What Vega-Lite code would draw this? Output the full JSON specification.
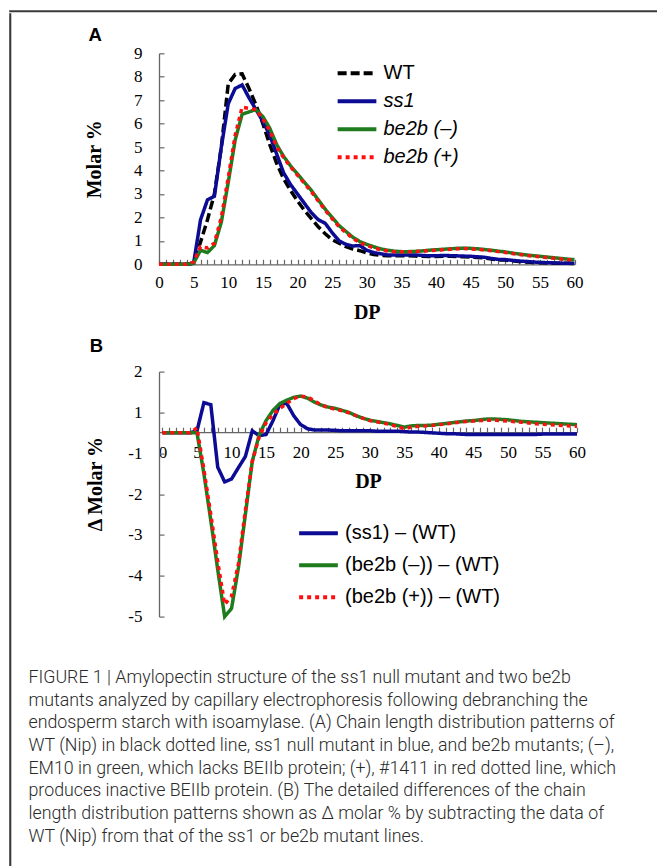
{
  "$schema": "https://vega.github.io/schema/vega-lite/v6.json",
  "padding": {"left": 8, "top": 9, "right": 0, "bottom": 0},
  "background": "white",
  "datasets": {
    "A": [
      {"dp":0,"WT":0,"ss1":0,"m":0,"p":0},{"dp":1,"WT":0,"ss1":0,"m":0,"p":0},{"dp":2,"WT":0,"ss1":0,"m":0,"p":0},{"dp":3,"WT":0,"ss1":0,"m":0,"p":0},{"dp":4,"WT":0,"ss1":0,"m":0,"p":0},
      {"dp":5,"WT":0.05,"ss1":0.05,"m":0.05,"p":0.1},{"dp":6,"WT":0.95,"ss1":1.9,"m":0.6,"p":0.75},{"dp":7,"WT":1.9,"ss1":2.75,"m":0.5,"p":0.7},{"dp":8,"WT":3.0,"ss1":2.9,"m":0.8,"p":0.9},{"dp":9,"WT":5.0,"ss1":5.0,"m":1.8,"p":2.0},
      {"dp":10,"WT":7.7,"ss1":6.85,"m":3.5,"p":3.7},{"dp":11,"WT":8.1,"ss1":7.5,"m":5.3,"p":5.5},{"dp":12,"WT":8.12,"ss1":7.65,"m":6.4,"p":6.7},{"dp":13,"WT":7.5,"ss1":7.1,"m":6.5,"p":6.65},{"dp":14,"WT":6.8,"ss1":6.6,"m":6.6,"p":6.6},
      {"dp":15,"WT":6.0,"ss1":6.1,"m":6.3,"p":6.2},{"dp":16,"WT":5.1,"ss1":5.5,"m":5.8,"p":5.7},{"dp":17,"WT":4.3,"ss1":4.7,"m":5.1,"p":5.0},{"dp":18,"WT":3.65,"ss1":3.9,"m":4.6,"p":4.55},{"dp":19,"WT":3.15,"ss1":3.4,"m":4.2,"p":4.15},
      {"dp":20,"WT":2.7,"ss1":3.0,"m":3.85,"p":3.8},{"dp":21,"WT":2.3,"ss1":2.6,"m":3.5,"p":3.45},{"dp":22,"WT":1.95,"ss1":2.2,"m":3.15,"p":3.1},{"dp":23,"WT":1.6,"ss1":1.9,"m":2.75,"p":2.7},{"dp":24,"WT":1.3,"ss1":1.75,"m":2.35,"p":2.3},
      {"dp":25,"WT":1.05,"ss1":1.35,"m":2.0,"p":1.95},{"dp":26,"WT":0.9,"ss1":1.0,"m":1.65,"p":1.6},{"dp":27,"WT":0.75,"ss1":0.85,"m":1.4,"p":1.35},{"dp":28,"WT":0.65,"ss1":0.78,"m":1.15,"p":1.1},{"dp":29,"WT":0.58,"ss1":0.8,"m":0.97,"p":0.93},
      {"dp":30,"WT":0.48,"ss1":0.6,"m":0.85,"p":0.8},{"dp":31,"WT":0.42,"ss1":0.5,"m":0.75,"p":0.7},{"dp":32,"WT":0.38,"ss1":0.45,"m":0.66,"p":0.62},{"dp":33,"WT":0.37,"ss1":0.4,"m":0.6,"p":0.57},{"dp":34,"WT":0.37,"ss1":0.4,"m":0.56,"p":0.54},
      {"dp":35,"WT":0.36,"ss1":0.4,"m":0.54,"p":0.53},{"dp":36,"WT":0.36,"ss1":0.4,"m":0.54,"p":0.53},{"dp":37,"WT":0.35,"ss1":0.4,"m":0.55,"p":0.54},{"dp":38,"WT":0.34,"ss1":0.38,"m":0.57,"p":0.56},{"dp":39,"WT":0.33,"ss1":0.36,"m":0.6,"p":0.58},
      {"dp":40,"WT":0.33,"ss1":0.36,"m":0.62,"p":0.6},{"dp":41,"WT":0.34,"ss1":0.38,"m":0.64,"p":0.62},{"dp":42,"WT":0.34,"ss1":0.37,"m":0.66,"p":0.64},{"dp":43,"WT":0.33,"ss1":0.36,"m":0.68,"p":0.66},{"dp":44,"WT":0.32,"ss1":0.35,"m":0.69,"p":0.67},
      {"dp":45,"WT":0.31,"ss1":0.34,"m":0.68,"p":0.66},{"dp":46,"WT":0.29,"ss1":0.32,"m":0.66,"p":0.64},{"dp":47,"WT":0.27,"ss1":0.3,"m":0.63,"p":0.61},{"dp":48,"WT":0.23,"ss1":0.25,"m":0.6,"p":0.58},{"dp":49,"WT":0.19,"ss1":0.21,"m":0.56,"p":0.54},
      {"dp":50,"WT":0.18,"ss1":0.2,"m":0.53,"p":0.5},{"dp":51,"WT":0.15,"ss1":0.17,"m":0.48,"p":0.46},{"dp":52,"WT":0.12,"ss1":0.14,"m":0.44,"p":0.42},{"dp":53,"WT":0.1,"ss1":0.12,"m":0.4,"p":0.38},{"dp":54,"WT":0.08,"ss1":0.1,"m":0.37,"p":0.35},
      {"dp":55,"WT":0.07,"ss1":0.08,"m":0.34,"p":0.32},{"dp":56,"WT":0.06,"ss1":0.07,"m":0.31,"p":0.29},{"dp":57,"WT":0.05,"ss1":0.06,"m":0.28,"p":0.26},{"dp":58,"WT":0.04,"ss1":0.05,"m":0.25,"p":0.23},{"dp":59,"WT":0.04,"ss1":0.05,"m":0.22,"p":0.2},
      {"dp":60,"WT":0.03,"ss1":0.04,"m":0.2,"p":0.18}
    ],
    "B": [
      {"dp":0,"s":0,"m":0,"p":0},{"dp":1,"s":0,"m":0,"p":0},{"dp":2,"s":0,"m":0,"p":0},{"dp":3,"s":0,"m":0,"p":0},{"dp":4,"s":0,"m":0,"p":0},
      {"dp":5,"s":0.05,"m":0,"p":0.12},{"dp":6,"s":0.74,"m":-1.0,"p":-0.9},{"dp":7,"s":0.69,"m":-2.15,"p":-2.0},{"dp":8,"s":-0.84,"m":-3.35,"p":-3.15},{"dp":9,"s":-1.2,"m":-4.5,"p":-4.2},
      {"dp":10,"s":-1.13,"m":-4.3,"p":-4.0},{"dp":11,"s":-0.85,"m":-3.3,"p":-3.2},{"dp":12,"s":-0.58,"m":-2.0,"p":-1.9},{"dp":13,"s":0.05,"m":-0.7,"p":-0.7},{"dp":14,"s":-0.07,"m":-0.05,"p":-0.1},
      {"dp":15,"s":-0.04,"m":0.3,"p":0.25},{"dp":16,"s":0.3,"m":0.55,"p":0.45},{"dp":17,"s":0.7,"m":0.72,"p":0.6},{"dp":18,"s":0.72,"m":0.8,"p":0.72},{"dp":19,"s":0.42,"m":0.87,"p":0.84},
      {"dp":20,"s":0.2,"m":0.9,"p":0.9},{"dp":21,"s":0.1,"m":0.85,"p":0.88},{"dp":22,"s":0.07,"m":0.75,"p":0.78},{"dp":23,"s":0.07,"m":0.68,"p":0.68},{"dp":24,"s":0.07,"m":0.63,"p":0.62},
      {"dp":25,"s":0.06,"m":0.6,"p":0.58},{"dp":26,"s":0.05,"m":0.55,"p":0.54},{"dp":27,"s":0.05,"m":0.5,"p":0.49},{"dp":28,"s":0.05,"m":0.42,"p":0.42},{"dp":29,"s":0.05,"m":0.36,"p":0.36},
      {"dp":30,"s":0.05,"m":0.31,"p":0.3},{"dp":31,"s":0.04,"m":0.28,"p":0.27},{"dp":32,"s":0.04,"m":0.25,"p":0.24},{"dp":33,"s":0.04,"m":0.22,"p":0.2},{"dp":34,"s":0.04,"m":0.18,"p":0.15},
      {"dp":35,"s":0.03,"m":0.14,"p":0.1},{"dp":36,"s":0.02,"m":0.17,"p":0.14},{"dp":37,"s":0.02,"m":0.18,"p":0.16},{"dp":38,"s":0.01,"m":0.18,"p":0.17},{"dp":39,"s":0.0,"m":0.19,"p":0.18},
      {"dp":40,"s":-0.01,"m":0.21,"p":0.2},{"dp":41,"s":-0.02,"m":0.23,"p":0.22},{"dp":42,"s":-0.02,"m":0.25,"p":0.24},{"dp":43,"s":-0.03,"m":0.27,"p":0.26},{"dp":44,"s":-0.04,"m":0.29,"p":0.28},
      {"dp":45,"s":-0.04,"m":0.3,"p":0.29},{"dp":46,"s":-0.04,"m":0.32,"p":0.3},{"dp":47,"s":-0.04,"m":0.34,"p":0.31},{"dp":48,"s":-0.04,"m":0.34,"p":0.31},{"dp":49,"s":-0.04,"m":0.33,"p":0.3},
      {"dp":50,"s":-0.04,"m":0.32,"p":0.29},{"dp":51,"s":-0.04,"m":0.3,"p":0.27},{"dp":52,"s":-0.04,"m":0.28,"p":0.26},{"dp":53,"s":-0.04,"m":0.27,"p":0.24},{"dp":54,"s":-0.04,"m":0.26,"p":0.22},
      {"dp":55,"s":-0.03,"m":0.25,"p":0.21},{"dp":56,"s":-0.03,"m":0.24,"p":0.2},{"dp":57,"s":-0.03,"m":0.23,"p":0.19},{"dp":58,"s":-0.03,"m":0.22,"p":0.18},{"dp":59,"s":-0.03,"m":0.21,"p":0.17},
      {"dp":60,"s":-0.03,"m":0.2,"p":0.16}
    ]
  },
  "config": {
    "view": {"stroke": null},
    "axis": {
      "grid": false,
      "labelFont": "Liberation Serif", "labelFontSize": 17, "labelColor": "#000",
      "titleFont": "Liberation Serif", "titleFontSize": 20, "titleFontWeight": "bold", "titleColor": "#000",
      "domainColor": "#666", "tickColor": "#666", "domainWidth": 1.3, "tickWidth": 1.2,
      "tickSize": -5, "labelOverlap": false, "labelFlush": false
    },
    "legend": {
      "labelFont": "Liberation Sans", "labelFontSize": 20, "labelColor": "#000", "labelLimit": 400,
      "symbolType": "stroke", "symbolSize": 1500, "symbolStrokeWidth": 4,
      "labelOffset": 5, "padding": 0, "title": null, "rowPadding": 0
    },
    "title": {"font": "Liberation Sans", "fontSize": 18.5, "fontWeight": "bold", "color": "#000"}
  },
  "spacing": 0,
  "vconcat": [
    {
      "width": 649, "height": 0.5,
      "data": {"values": [{"k": 1}]},
      "mark": {"type": "point", "opacity": 0, "size": 1},
      "encoding": {},
      "view": {"stroke": "#3a3a3a", "strokeWidth": 1.6}
    },
    {
      "spacing": 16,
      "hconcat": [
        {
          "width": 0.5, "height": 857,
          "data": {"values": [{"k": 1}]},
          "mark": {"type": "point", "opacity": 0, "size": 1},
          "encoding": {},
          "view": {"stroke": "#3a3a3a", "strokeWidth": 1.6}
        },
        {
          "spacing": 10.3,
          "resolve": {"scale": {"color": "independent", "strokeDash": "independent"}, "legend": {"color": "independent", "strokeDash": "independent"}},
          "title": {
            "text": [
              "FIGURE 1 | Amylopectin structure of the ss1 null mutant and two be2b",
              "mutants analyzed by capillary electrophoresis following debranching the",
              "endosperm starch with isoamylase. (A) Chain length distribution patterns of",
              "WT (Nip) in black dotted line, ss1 null mutant in blue, and be2b mutants; (–),",
              "EM10 in green, which lacks BEIIb protein; (+), #1411 in red dotted line, which",
              "produces inactive BEIIb protein. (B) The detailed differences of the chain",
              "length distribution patterns shown as Δ molar % by subtracting the data of",
              "WT (Nip) from that of the ss1 or be2b mutant lines."
            ],
            "orient": "bottom", "anchor": "start", "frame": "bounds",
            "font": "Roboto", "fontSize": 17.8, "fontWeight": 300,
            "color": "#2a2a2a", "lineHeight": 22.7, "offset": 44.3, "dx": -56
          },
          "vconcat": [
            {
              "width": 1, "height": 0.5,
              "data": {"values": [{"k": 1}]},
              "mark": {"type": "point", "opacity": 0, "size": 1},
              "encoding": {}
            },
            {
              "width": 415.5, "height": 211,
              "title": {"text": "A", "anchor": "start", "frame": "bounds", "dx": 4, "offset": 0},
              "data": {"name": "A"},
              "transform": [{"fold": ["WT", "ss1", "m", "p"], "as": ["series", "v"]}],
              "mark": {"type": "line", "strokeWidth": 3.5},
              "encoding": {
                "x": {
                  "field": "dp", "type": "quantitative",
                  "scale": {"domain": [0, 60], "nice": false},
                  "axis": {
                    "title": "DP", "labelPadding": 15, "titlePadding": 12,
                    "values": [0,1,2,3,4,5,6,7,8,9,10,11,12,13,14,15,16,17,18,19,20,21,22,23,24,25,26,27,28,29,30,31,32,33,34,35,36,37,38,39,40,41,42,43,44,45,46,47,48,49,50,51,52,53,54,55,56,57,58,59,60],
                    "labelExpr": "datum.value % 5 === 0 ? datum.label : ''"
                  }
                },
                "y": {
                  "field": "v", "type": "quantitative",
                  "scale": {"domain": [0, 9], "nice": false},
                  "axis": {"title": "Molar %", "values": [0,1,2,3,4,5,6,7,8,9], "labelPadding": 22, "titlePadding": 29}
                },
                "color": {
                  "field": "series", "type": "nominal",
                  "scale": {"domain": ["WT", "ss1", "m", "p"], "range": ["#000000", "#0b0b94", "#1e7b1e", "#ff1010"]},
                  "legend": {
                    "orient": "none", "legendX": 176.5, "legendY": 6, "clipHeight": 28,
                    "labelExpr": "datum.label === 'm' ? 'be2b (–)' : datum.label === 'p' ? 'be2b (+)' : datum.label",
                    "encode": {"labels": {"update": {"fontStyle": {"signal": "datum.label === 'WT' ? 'normal' : 'italic'"}}}}
                  }
                },
                "strokeDash": {
                  "field": "series", "type": "nominal",
                  "scale": {"domain": ["WT", "ss1", "m", "p"], "range": [[9, 4], [1, 0], [1, 0], [4, 4]]},
                  "legend": {
                    "orient": "none", "legendX": 176.5, "legendY": 6, "clipHeight": 28,
                    "labelExpr": "datum.label === 'm' ? 'be2b (–)' : datum.label === 'p' ? 'be2b (+)' : datum.label",
                    "encode": {"labels": {"update": {"fontStyle": {"signal": "datum.label === 'WT' ? 'normal' : 'italic'"}}}}
                  }
                }
              }
            },
            {
              "width": 418, "height": 245,
              "title": {"text": ["", "B"], "lineHeight": 4.1, "anchor": "start", "frame": "bounds", "dx": 4, "offset": 7},
              "data": {"name": "B"},
              "transform": [{"fold": ["s", "m", "p"], "as": ["series", "d"]}],
              "mark": {"type": "line", "strokeWidth": 3.5},
              "encoding": {
                "x": {
                  "field": "dp", "type": "quantitative",
                  "scale": {"domain": [-0.5, 60], "nice": false},
                  "axis": {
                    "title": "DP", "labelPadding": 17, "titlePadding": 11, "offset": -184.4,
                    "values": [0,1,2,3,4,5,6,7,8,9,10,11,12,13,14,15,16,17,18,19,20,21,22,23,24,25,26,27,28,29,30,31,32,33,34,35,36,37,38,39,40,41,42,43,44,45,46,47,48,49,50,51,52,53,54,55,56,57,58,59,60],
                    "labelExpr": "datum.value % 5 === 0 ? datum.label : ''"
                  }
                },
                "y": {
                  "field": "d", "type": "quantitative",
                  "scale": {"domain": [-4.5, 1.5], "nice": false, "zero": false},
                  "axis": {
                    "title": "Δ Molar %", "values": [1.5, 0.5, -0.5, -1.5, -2.5, -3.5, -4.5],
                    "labelExpr": "datum.value > 0 ? '' + (datum.value + 0.5) : '' + (datum.value - 0.5)",
                    "labelPadding": 22, "titlePadding": 22, "titleY": 112
                  }
                },
                "color": {
                  "field": "series", "type": "nominal",
                  "scale": {"domain": ["s", "m", "p"], "range": ["#0b0b94", "#1e7b1e", "#ff1010"]},
                  "legend": {
                    "orient": "none", "legendX": 138, "legendY": 145.7, "clipHeight": 31.7,
                    "labelExpr": "datum.label === 's' ? '(ss1) – (WT)' : datum.label === 'm' ? '(be2b  (–)) – (WT)' : '(be2b  (+)) – (WT)'"
                  }
                },
                "strokeDash": {
                  "field": "series", "type": "nominal",
                  "scale": {"domain": ["s", "m", "p"], "range": [[1, 0], [1, 0], [4, 4]]},
                  "legend": {
                    "orient": "none", "legendX": 138, "legendY": 145.7, "clipHeight": 31.7,
                    "labelExpr": "datum.label === 's' ? '(ss1) – (WT)' : datum.label === 'm' ? '(be2b  (–)) – (WT)' : '(be2b  (+)) – (WT)'"
                  }
                }
              }
            }
          ]
        }
      ]
    }
  ]
}
